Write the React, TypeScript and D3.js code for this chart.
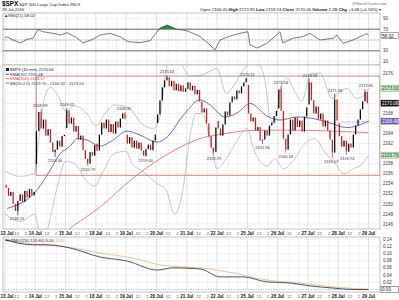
import React from 'react';
import * as d3 from 'd3';

// ---------- DATA ----------
const dayLabels = ['13 Jul','14 Jul','15 Jul','18 Jul','19 Jul','20 Jul','21 Jul','22 Jul','25 Jul','26 Jul','27 Jul','28 Jul','29 Jul'];
const hourLabels = ['12', '2'];
const hourFrac = [2.5 / 6.5, 4.5 / 6.5];

// price points every 30 minutes (open + 13 closes) for each session
const d13 = [2153.8, 2153.2, 2151.6, 2152.4, 2150.0, 2148.6, 2150.6, 2151.9, 2150.4, 2152.6, 2151.3, 2153.0, 2151.7, 2152.4];
const d14 = [2157.9, 2164.5, 2168.3, 2165.0, 2166.8, 2163.6, 2164.9, 2162.2, 2160.3, 2160.8, 2162.6, 2161.4, 2163.5, 2163.75];
const d15 = [2165.1, 2168.6, 2166.0, 2167.2, 2164.4, 2165.5, 2162.8, 2163.6, 2160.7, 2159.0, 2158.0, 2160.3, 2159.6, 2161.7];
const d18 = [2162.0, 2160.6, 2163.8, 2166.2, 2165.0, 2166.8, 2164.3, 2165.9, 2164.0, 2166.4, 2165.2, 2167.0, 2168.0, 2166.9];
const d19 = [2163.8, 2162.0, 2163.3, 2161.2, 2162.6, 2161.0, 2162.2, 2160.6, 2159.6, 2160.9, 2161.8, 2160.7, 2162.6, 2163.8];
const d20 = [2166.1, 2167.8, 2170.6, 2173.2, 2174.6, 2175.2, 2173.4, 2174.5, 2172.6, 2173.9, 2172.4, 2173.6, 2172.3, 2173.0];
const d21 = [2172.9, 2174.2, 2172.6, 2173.5, 2171.8, 2172.7, 2170.4, 2168.2, 2169.0, 2166.0, 2163.5, 2161.2, 2160.4, 2165.2];
const d22 = [2166.5, 2165.0, 2163.6, 2165.8, 2168.4, 2167.6, 2170.2, 2171.4, 2170.8, 2172.6, 2172.0, 2173.4, 2174.2, 2175.0];
const d25 = [2173.7, 2168.0, 2166.4, 2167.2, 2164.6, 2165.3, 2162.6, 2162.8, 2164.6, 2163.6, 2165.6, 2166.2, 2167.5, 2168.5];
const d26 = [2169.0, 2172.8, 2168.5, 2163.0, 2160.8, 2163.8, 2166.8, 2164.6, 2167.2, 2165.3, 2166.6, 2164.4, 2167.4, 2169.2];
const d27 = [2169.8, 2174.2, 2170.6, 2168.0, 2169.4, 2166.8, 2168.0, 2165.4, 2166.6, 2164.6, 2162.8, 2160.2, 2170.8, 2166.6];
const d28 = [2166.05, 2163.5, 2161.4, 2162.6, 2160.4, 2162.0, 2161.2, 2163.8, 2165.6, 2166.8, 2168.8, 2170.4, 2172.3, 2170.06];
const sessions = [d13, d14, d15, d18, d19, d20, d21, d22, d25, d26, d27, d28];

// labelled highs / lows: [time (sessions), value, label, above?]
const extremes: [number, number, string, boolean][] = [
  [0.40, 2147.7, '2146.21', false],
  [1.16, 2168.99, '2168.99', true],
  [1.65, 2159.36, '2159.36', false],
  [2.05, 2169.05, '2169.05', true],
  [2.74, 2157.6, '2155.79', false],
  [3.93, 2168.35, '2168.35', true],
  [4.65, 2159.40, '2159.40', false],
  [5.35, 2175.63, '2175.63', true],
  [6.90, 2159.75, '2159.75', false],
  [8.00, 2175.11, '2175.11', true],
  [8.50, 2161.96, '2161.96', false],
  [9.10, 2173.54, '2173.54', true],
  [9.27, 2160.18, '2160.18', false],
  [10.07, 2174.98, '2174.98', true],
  [10.77, 2159.07, '2159.07', false],
  [10.90, 2171.96, '2171.96', true],
  [11.30, 2159.74, '2159.74', false],
  [11.92, 2172.85, '2172.85', true],
];

const emaT = [0.07, 1.06, 1.49, 1.82, 2.15, 2.38, 2.71, 3.14, 3.56, 4.03, 4.46, 5.02, 5.35, 5.87, 6.44, 6.77, 7.26, 7.66, 8.09, 8.65, 9.08, 9.64, 10.07, 10.63, 11.29, 12.0];
const ema50 = [2149.1, 2152.8, 2156.7, 2160.0, 2161.5, 2163.0, 2162.7, 2161.5, 2162.7, 2164.5, 2163.7, 2162.3, 2163.3, 2167.5, 2170.7, 2169.7, 2167.3, 2168.1, 2170.0, 2167.5, 2166.7, 2167.3, 2167.1, 2166.3, 2165.2, 2166.48];
const ema200T = [1.5, 2.0, 3.14, 4.22, 5.2, 5.54, 6.44, 7.26, 8.09, 9.2, 10.8, 12.0];
const ema200 = [2142.0, 2144.5, 2149.4, 2155.1, 2159.3, 2160.5, 2163.0, 2164.0, 2164.6, 2164.7, 2164.5, 2164.17];

const bbUpT = [0.0, 0.5, 0.95, 1.1, 1.3, 1.5, 1.75, 2.0, 2.3, 2.7, 3.0, 3.3, 3.6, 3.9, 4.2, 4.5, 4.9, 5.1, 5.3, 5.5, 5.8, 6.1, 6.4, 6.8, 7.0, 7.3, 7.6, 7.9, 8.1, 8.4, 8.6, 8.75, 8.9, 9.1, 9.3, 9.6, 9.8, 10.1, 10.4, 10.8, 11.0, 11.3, 11.6, 11.9, 12.0];
const bbUp = [2156.5, 2155.5, 2156, 2162, 2171, 2173.2, 2171.5, 2168.5, 2169.5, 2168, 2165.5, 2168, 2169.7, 2169.5, 2168.5, 2166, 2165, 2167, 2176, 2180, 2178, 2175.5, 2175.5, 2176.5, 2177, 2172, 2174, 2177, 2178, 2177.5, 2174, 2167, 2166, 2173, 2175, 2172, 2170.5, 2176, 2176, 2171, 2172, 2173, 2171, 2172, 2173.01];
const bbLoT = [0.0, 0.5, 1.0, 1.2, 1.45, 1.75, 2.0, 2.3, 2.7, 2.95, 3.2, 3.6, 4.0, 4.2, 4.55, 5.02, 5.3, 5.6, 5.85, 6.1, 6.3, 6.5, 6.8, 7.0, 7.3, 7.6, 8.0, 8.2, 8.5, 8.65, 8.9, 9.2, 9.5, 9.9, 10.2, 10.6, 10.9, 11.2, 11.5, 11.8, 12.0];
const bbLo = [2148, 2146.5, 2148, 2141, 2146, 2154, 2158.5, 2158, 2154.5, 2153.5, 2156, 2160, 2160.5, 2158, 2156.5, 2154, 2153, 2148, 2152, 2163, 2168, 2168, 2162, 2157, 2159, 2162, 2165, 2161, 2158, 2157.5, 2159, 2157, 2158.5, 2162, 2163, 2160, 2158, 2156, 2157, 2158, 2159.70];

const rsiT = [0.0, 0.07, 0.26, 0.5, 0.73, 0.92, 1.09, 1.25, 1.58, 1.82, 2.05, 2.38, 2.57, 2.9, 3.14, 3.47, 3.8, 4.06, 4.46, 4.79, 5.12, 5.35, 5.68, 6.0, 6.34, 6.44, 6.77, 6.93, 7.1, 7.43, 7.76, 8.02, 8.09, 8.32, 8.65, 9.08, 9.17, 9.5, 9.83, 10.07, 10.4, 10.83, 10.96, 11.16, 11.49, 11.95, 12.0];
const rsi = [54, 56.2, 50, 44.4, 51.3, 53.2, 69.5, 65.5, 62.5, 59.3, 63.6, 53.7, 44.4, 51.3, 59.3, 62.5, 56.2, 46.8, 45, 48.7, 72.4, 78, 70, 67.4, 59.3, 56.2, 40.7, 31.3, 50, 57.5, 62.5, 65.5, 40.7, 35, 43.8, 65.5, 44.4, 53.2, 56.2, 62.5, 50, 53.2, 59.3, 43.8, 50, 62, 58.02];

const pmoT = [0.0, 0.92, 1.39, 2.15, 3.14, 4.03, 5.02, 5.54, 6.44, 7.1, 7.85, 8.65, 9.4, 10.07, 10.83, 11.49, 12.0];
const pmo = [0.1375, 0.124, 0.124, 0.115, 0.09, 0.079, 0.054, 0.06, 0.057, 0.035, 0.035, 0.021, 0.018, 0.010, 0.004, 0.0, 0.0];
const sigT = [0.0, 0.92, 2.05, 3.14, 4.23, 5.12, 5.78, 6.44, 7.52, 8.65, 9.74, 10.83, 12.0];
const sig = [0.1375, 0.126, 0.118, 0.101, 0.087, 0.068, 0.063, 0.06, 0.046, 0.026, 0.018, 0.007, 0.001];

const rsiTicks = [90, 70, 50, 30, 10];
const priceTicks = d3.range(2146, 2177, 2);
const pmoTicks = [0.14, 0.12, 0.10, 0.08, 0.06, 0.04, 0.02];

const boxRect = { t0: 1.03, t1: 12.38, v0: 2155.7, v1: 2175.45 };

// ---------- CHART ----------
const FONT = 'Liberation Sans, Arial, sans-serif';
const L = 3, R = 380;

export default function App() {
  const x = d3.scaleLinear().domain([-0.066, 12.38]).range([L, R]);
  const yR = d3.scaleLinear().domain([50, 70]).range([40, 29.3]);
  const yP = d3.scaleLinear().domain([2146, 2176]).range([224, 73.3]);
  const yM = d3.scaleLinear().domain([0, 0.14]).range([289.5, 239]);

  const rsiTop = 13, rsiBot = 65, mainTop = 65, mainBot = 229, pmoTop = 237, pmoBot = 292;

  const ticks: { t: number; label: string; major: boolean }[] = [];
  dayLabels.forEach((lab, d) => {
    ticks.push({ t: d, label: lab, major: true });
    if (d < 12) hourFrac.forEach((f, i) => ticks.push({ t: d + f, label: hourLabels[i], major: false }));
  });

  const candles: { t: number; o: number; c: number }[] = [];
  sessions.forEach((pts, d) => {
    for (let k = 0; k < 13; k++) candles.push({ t: d + (k + 0.5) / 13, o: pts[k], c: pts[k + 1] });
  });

  const lineOf = (ts: number[], vs: number[], ys: d3.ScaleLinear<number, number>, curve = d3.curveMonotoneX) =>
    d3.line<number>().x((_, i) => x(ts[i])).y((v) => ys(v)).curve(curve)(vs) || '';

  const rsiPath = d3.line<number>().x((_, i) => x(rsiT[i])).y((v) => yR(v))(rsi) || '';
  const rsiArea = d3.area<number>().x((_, i) => x(rsiT[i])).y0(yR(70)).y1((v) => yR(v))(rsi) || '';

  const grid = (top: number, bot: number, key: string) =>
    ticks.map((tk, i) => (
      <line key={key + i} x1={x(tk.t)} x2={x(tk.t)} y1={top} y2={bot} stroke={tk.major ? '#cfcfcf' : '#e6e6e6'} strokeWidth={0.6} />
    ));

  const axisLabels = (yb: number, key: string) =>
    ticks.map((tk, i) => {
      const first = i === 0;
      return (
        <text key={key + i} x={first ? 0.5 : x(tk.t)} y={yb} fontSize={tk.major ? 4.6 : 4.3} fontWeight={tk.major ? 'bold' : 'normal'}
          fill={tk.major ? '#111' : '#555'} textAnchor={first ? 'start' : 'middle'}>{tk.label}</text>
      );
    });

  const valueBox = (y: number, text: string, fill: string, color: string, stroke: string, key: string) => (
    <g key={key}>
      <rect x={381} y={y - 3} width={17.5} height={6} fill={fill} stroke={stroke} strokeWidth={0.5} />
      <text x={382} y={y + 1.8} fontSize={4.6} fill={color}>{text}</text>
    </g>
  );

  const priceBoxes = [2173.01, 2170.06, 2166.48, 2159.70];
  const visiblePriceTicks = priceTicks.filter((v) => priceBoxes.every((b) => Math.abs(yP(v) - yP(b)) > 5.5));
  const visibleRsiTicks = rsiTicks.filter((v) => Math.abs(yR(v) - yR(58.02)) > 5.5);

  const cw = 1.25;

  return (
    <svg width={399} height={300} viewBox="0 0 399 300" style={{ position: 'absolute', left: 0, top: 0, background: '#fff' }} fontFamily={FONT}>
      <defs>
        <clipPath id="clipMain"><rect x={L} y={mainTop} width={R - L} height={mainBot - mainTop} /></clipPath>
        <clipPath id="clipAbove70"><rect x={L} y={rsiTop} width={R - L} height={yR(70) - rsiTop} /></clipPath>
      </defs>
      <rect x={0} y={0} width={399} height={300} fill="#fff" />

      {/* header */}
      <text x={2} y={6} fontSize={6.4} fontWeight="bold" fill="#000">$SPX</text>
      <text x={19} y={6} fontSize={4.3} fill="#222">S&amp;P 500 Large Cap Index  INDX</text>
      <text x={352} y={4.5} fontSize={4} fill="#666">@StockCharts.com</text>
      <text x={2} y={11} fontSize={4.2} fill="#222">28-Jul-2016</text>
      <text x={381} y={11} fontSize={4.3} fill="#111" textAnchor="end">
        <tspan>Open </tspan><tspan>2166.05 </tspan>
        <tspan fontWeight="bold">High </tspan><tspan>2172.85 </tspan>
        <tspan fontWeight="bold">Low </tspan><tspan>2159.74 </tspan>
        <tspan fontWeight="bold">Close </tspan><tspan>2170.06 </tspan>
        <tspan fontWeight="bold">Volume </tspan><tspan>2.2B </tspan>
        <tspan fontWeight="bold">Chg </tspan><tspan>+3.48 (+0.16%) ▾</tspan>
      </text>

      {/* RSI panel */}
      <rect x={L} y={rsiTop} width={R - L} height={rsiBot - rsiTop} fill="#fff" stroke="#999" strokeWidth={0.6} />
      {grid(rsiTop, rsiBot, 'rg')}
      {rsiTicks.map((v) => (
        <line key={'rh' + v} x1={L} x2={R} y1={yR(v)} y2={yR(v)} stroke="#e6e6e6" strokeWidth={0.6} />
      ))}
      <line x1={L} x2={R} y1={yR(70)} y2={yR(70)} stroke="#9a9a9a" strokeWidth={1.4} />
      <line x1={L} x2={R} y1={yR(30)} y2={yR(30)} stroke="#9a9a9a" strokeWidth={1.4} />
      <line x1={L} x2={R} y1={yR(50)} y2={yR(50)} stroke="#999" strokeWidth={0.6} strokeDasharray="2,1.5" />
      <path d={rsiArea} fill="#2e8b3a" clipPath="url(#clipAbove70)" />
      <path d={rsiPath} fill="none" stroke="#222" strokeWidth={0.6} />
      <text x={4} y={16.5} fontSize={4.3} fill="#222">▲RSI(21) 58.02</text>
      {visibleRsiTicks.map((v) => (
        <text key={'rt' + v} x={383} y={yR(v) + 1.6} fontSize={4.5} fill="#333">{v}</text>
      ))}
      {valueBox(yR(58.02), '58.02', '#fff', '#111', '#555', 'rb')}

      {/* main panel */}
      <rect x={L} y={mainTop} width={R - L} height={mainBot - mainTop} fill="#fff" stroke="#999" strokeWidth={0.6} />
      {grid(mainTop, mainBot, 'mg')}
      {priceTicks.map((v) => (
        <line key={'ph' + v} x1={L} x2={R} y1={yP(v)} y2={yP(v)} stroke="#e6e6e6" strokeWidth={0.6} />
      ))}
      <g clipPath="url(#clipMain)">
        <path d={lineOf(bbUpT, bbUp, yP)} fill="none" stroke="#9aa89a" strokeWidth={0.6} />
        <path d={lineOf(bbLoT, bbLo, yP)} fill="none" stroke="#9aa89a" strokeWidth={0.6} />
        <path d={lineOf(ema200T, ema200, yP)} fill="none" stroke="#e05050" strokeWidth={0.7} />
        <path d={lineOf(emaT, ema50, yP)} fill="none" stroke="#303090" strokeWidth={0.7} />
        <line x1={x(11.1)} x2={x(12.05)} y1={yP(2166.32)} y2={yP(2166.32)} stroke="#3050c0" strokeWidth={0.6} strokeDasharray="1.2,1" />
        <rect x={x(boxRect.t0)} y={yP(boxRect.v1)} width={x(boxRect.t1) - x(boxRect.t0)} height={yP(boxRect.v0) - yP(boxRect.v1)}
          fill="none" stroke="#c07070" strokeWidth={0.8} />
        {extremes.map(([t, v], i) => {
          const c = candles.reduce((a, b) => (Math.abs(b.t - t) < Math.abs(a.t - t) ? b : a));
          const up = c.c >= c.o;
          const edge = v > Math.max(c.o, c.c) ? Math.max(c.o, c.c) : Math.min(c.o, c.c);
          return <line key={'w' + i} x1={x(c.t)} x2={x(c.t)} y1={yP(edge)} y2={yP(v)} stroke={up ? '#000' : '#d81818'} strokeWidth={0.6} />;
        })}
        {candles.map((c, i) => {
          const up = c.c >= c.o;
          const y1 = yP(Math.max(c.o, c.c));
          const h = Math.max(0.9, yP(Math.min(c.o, c.c)) - y1);
          return <rect key={'c' + i} x={x(c.t) - cw / 2} y={y1} width={cw} height={h} fill={up ? '#000' : '#d81818'} />;
        })}
        {extremes.map(([t, v, lab, above], i) => (
          <text key={'el' + i} x={x(t)} y={above ? yP(v) - 1.8 : yP(v) + 5} fontSize={4} fill="#333" textAnchor="middle">{lab}</text>
        ))}
      </g>
      <g fontSize={4.2}>
        <rect x={6} y={68} width={3} height={3} fill="#222" />
        <text x={10} y={71.3} fill="#111">$SPX (10 min) 2170.06</text>
        <line x1={6} x2={9} y1={74.3} y2={74.3} stroke="#303090" strokeWidth={0.8} />
        <text x={10} y={75.8} fill="#303090">EMA(50) 2166.48</text>
        <line x1={6} x2={9} y1={78.6} y2={78.6} stroke="#e05050" strokeWidth={0.8} />
        <text x={10} y={80.1} fill="#d04040">EMA(200) 2164.17</text>
        <line x1={6} x2={9} y1={83} y2={83} stroke="#2a7a2a" strokeWidth={0.8} />
        <text x={10} y={84.5} fill="#2a5a2a">BB(20,2.0) 2159.70 - 2166.32 - 2173.01</text>
      </g>
      {visiblePriceTicks.map((v) => (
        <text key={'pt' + v} x={383} y={yP(v) + 1.6} fontSize={4.5} fill="#333">{v}</text>
      ))}
      {valueBox(yP(2173.01), '2173.01', '#cfe8cf', '#114411', '#6a6', 'b1')}
      {valueBox(yP(2170.06), '2170.06', '#111', '#fff', '#111', 'b2')}
      {valueBox(yP(2166.48), '2166.48', '#6a5aa8', '#fff', '#6a5aa8', 'b3')}
      {valueBox(yP(2159.70), '2159.70', '#cfe8cf', '#114411', '#6a6', 'b4')}

      {/* axis strip 1 */}
      {axisLabels(235, 'a1')}

      {/* PMO panel */}
      <rect x={L} y={pmoTop} width={R - L} height={pmoBot - pmoTop} fill="#fff" stroke="#999" strokeWidth={0.6} />
      {grid(pmoTop, pmoBot, 'pg')}
      {pmoTicks.map((v) => (
        <line key={'mh' + v} x1={L} x2={R} y1={yM(v)} y2={yM(v)} stroke="#e6e6e6" strokeWidth={0.6} />
      ))}
      <line x1={L} x2={R} y1={yM(0)} y2={yM(0)} stroke="#999" strokeWidth={0.5} strokeDasharray="1.5,1" />
      <path d={lineOf(sigT, sig, yM)} fill="none" stroke="#e8a86a" strokeWidth={0.7} />
      <path d={lineOf(pmoT, pmo, yM)} fill="none" stroke="#26264a" strokeWidth={0.8} />
      <line x1={6} x2={10} y1={240.2} y2={240.2} stroke="#26264a" strokeWidth={0.9} />
      <text x={11} y={241.7} fontSize={4.2} fill="#222">PMO(210,120,60) 0.00, <tspan fill="#e0a060">0.00</tspan></text>
      {pmoTicks.map((v) => (
        <text key={'mt' + v} x={383} y={yM(v) + 1.6} fontSize={4.5} fill="#333">{v.toFixed(2)}</text>
      ))}
      {valueBox(yM(0), '0.00', '#fff', '#111', '#333', 'b5')}

      {/* axis strip 2 */}
      {axisLabels(298, 'a2')}
    </svg>
  );
}
